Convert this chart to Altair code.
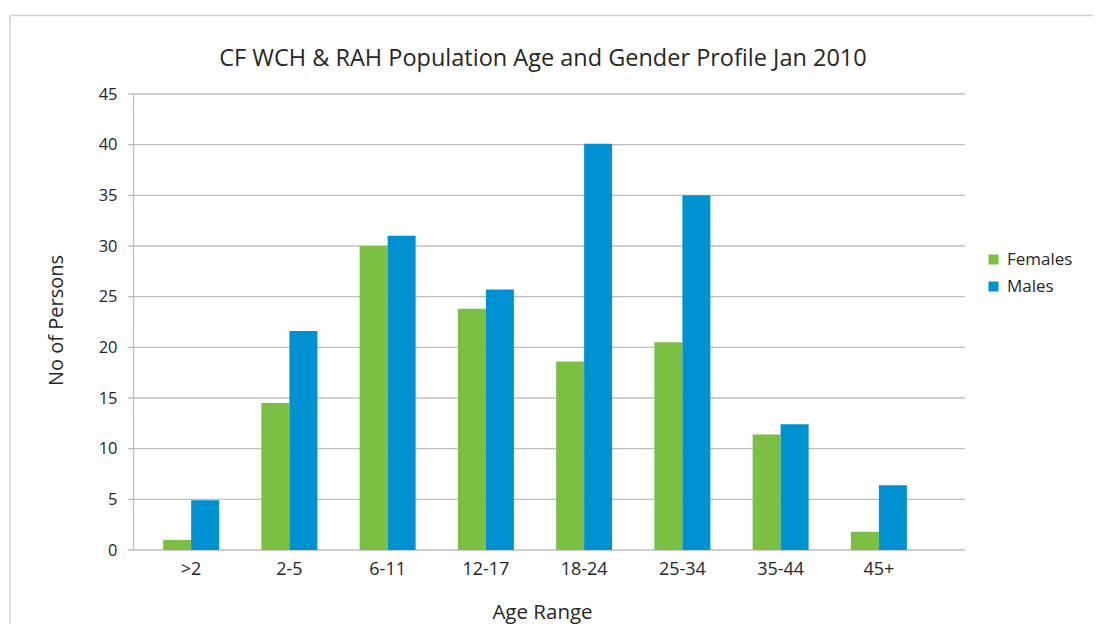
import altair as alt
import pandas as pd

# ---- data ----
ages = [">2", "2-5", "6-11", "12-17", "18-24", "25-34", "35-44", "45+"]
females = [1.0, 14.5, 30.0, 23.8, 18.6, 20.5, 11.4, 1.8]
males = [4.9, 21.6, 31.0, 25.7, 40.1, 35.0, 12.4, 6.4]
series = ["Females", "Males"]
colors = ["#7bc043", "#0091d0"]
y_ticks = [0, 5, 10, 15, 20, 25, 30, 35, 40, 45]

rows = []
for a, f, m in zip(ages, females, males):
    rows.append({"Age Range": a, "Gender": "Females", "Persons": f})
    rows.append({"Age Range": a, "Gender": "Males", "Persons": m})
df = pd.DataFrame(rows)
grid_df = pd.DataFrame({"Persons": y_ticks})

FONT = "Open Sans"
TEXT = "#262626"
GRID = "#bfbfbf"
BORDER = "#d4d4d4"

W, H = 832, 456
PAD_L, PAD_T, PAD_R, PAD_B = 125, 86, 128, 74

y_scale = alt.Scale(domain=[0, 45], nice=False)

grid = alt.Chart(grid_df).mark_rule(color=GRID, strokeWidth=1.3).encode(
    y=alt.Y("Persons:Q", scale=y_scale),
    x=alt.value(-5),
    x2=alt.value(W),
)

bars = alt.Chart(df).mark_bar().encode(
    x=alt.X(
        "Age Range:N",
        sort=ages,
        scale=alt.Scale(range=[9, 795], paddingInner=0.43, paddingOuter=0.215),
        axis=alt.Axis(
            title="Age Range",
            labelAngle=0,
            ticks=False,
            domain=False,
            labelPadding=10,
            labelFontSize=18,
            labelColor=TEXT,
            labelFont=FONT,
            titleFont=FONT,
            titleFontSize=20.5,
            titleFontWeight="normal",
            titleColor=TEXT,
            titleX=409,
            titleY=52,
            titleBaseline="top",
        ),
    ),
    xOffset=alt.XOffset("Gender:N", sort=series),
    y=alt.Y(
        "Persons:Q",
        scale=y_scale,
        axis=alt.Axis(
            title="No of Persons",
            values=y_ticks,
            grid=False,
            domain=True,
            domainColor=GRID,
            domainWidth=1.3,
            ticks=False,
            labelPadding=16,
            labelFontSize=16.5,
            labelColor=TEXT,
            labelFont=FONT,
            titleFont=FONT,
            titleFontSize=20,
            titleFontWeight="normal",
            titleColor=TEXT,
            titleX=-67,
            titleY=226,
        ),
    ),
    color=alt.Color(
        "Gender:N",
        sort=series,
        scale=alt.Scale(domain=series, range=colors),
        legend=alt.Legend(
            title=None,
            orient="none",
            legendX=852,
            legendY=157,
            symbolType="square",
            symbolSize=100,
            symbolStrokeWidth=0,
            labelFontSize=17,
            labelFont=FONT,
            labelColor=TEXT,
            rowPadding=9,
            labelOffset=5,
            padding=0,
        ),
    ),
)

frame = pd.DataFrame({"k": [0]})
border_left = alt.Chart(frame).mark_rule(color=BORDER, strokeWidth=1.5).encode(
    x=alt.value(-123), y=alt.value(-78.5), y2=alt.value(H + PAD_B)
)
border_top = alt.Chart(frame).mark_rule(color=BORDER, strokeWidth=1.5).encode(
    x=alt.value(-123), x2=alt.value(W + PAD_R), y=alt.value(-78.5)
)

chart = (
    alt.layer(border_left, border_top, grid, bars)
    .properties(
        width=W,
        height=H,
        padding={"left": PAD_L, "top": PAD_T, "right": PAD_R, "bottom": PAD_B},
        autosize=alt.AutoSizeParams(type="none"),
        title=alt.TitleParams(
            "CF WCH & RAH Population Age and Gender Profile Jan 2010",
            font=FONT,
            fontSize=23.5,
            fontWeight="normal",
            color=TEXT,
            anchor="middle",
            frame="group",
            dx=-6,
            offset=-56,
        ),
    )
    .configure(background="white")
    .configure_view(strokeWidth=0)
)

chart.save("out.html", embed_options={"renderer": "svg", "actions": False})
